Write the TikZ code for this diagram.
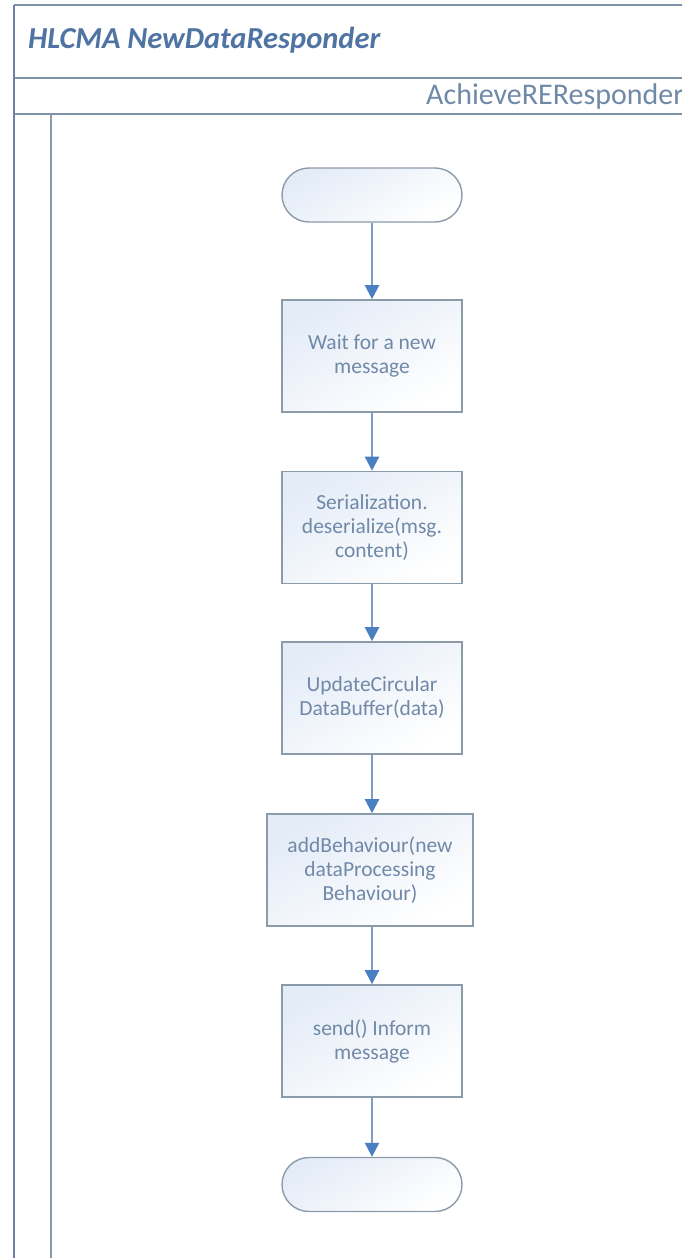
\documentclass[tikz,border=0pt]{standalone}
\usepackage{fontspec}
\setmainfont{Carlito}
\usetikzlibrary{arrows.meta,shapes.misc}
\definecolor{txt}{HTML}{7089A8}
\definecolor{ttl}{HTML}{4F74A3}
\definecolor{bord}{HTML}{8C9BAA}
\definecolor{arr}{HTML}{7C9DC4}
\definecolor{tip}{HTML}{4A80C2}
\definecolor{frameL}{HTML}{6F80AA}
\definecolor{frameT}{HTML}{7F93A8}
\definecolor{fillA}{HTML}{E4ECF7}
\tikzset{
  stepbox/.style={draw=bord, line width=1.6pt, top color=fillA, bottom color=white,
    shading angle=30, minimum width=180pt, minimum height=112pt, inner sep=0pt,
    align=center, text=txt, font=\fontsize{21.5}{24}\selectfont},
  termbox/.style={draw=bord, line width=1.4pt, rounded rectangle, top color=fillA, bottom color=white,
    shading angle=30, minimum width=180pt, minimum height=54pt, inner sep=0pt},
  flow/.style={draw=arr, line width=2.2pt, -{Triangle[width=14pt,length=14pt,color=tip]}},
  framel/.style={line width=2pt}
}
\begin{document}
\begin{tikzpicture}[x=1pt,y=-1pt]
\useasboundingbox (0,0) rectangle (681,1258);
\fill[white] (0,0) rectangle (681,1258);
% frame
\draw[framel, draw=frameT] (14,5) -- (690,5);
\draw[framel, draw=frameT] (14,78) -- (690,78);
\draw[framel, draw=frameT] (14,114) -- (690,114);
\draw[framel, draw=frameL] (14,5) -- (14,1265);
\draw[framel, draw=bord] (51,114) -- (51,1265);
\node[anchor=base west, inner sep=0pt, text=ttl, font=\fontsize{30.5}{31}\selectfont\bfseries\itshape] (title) at (28,48) {HLCMA NewDataResponder};
\node[anchor=base west, inner sep=0pt, text=txt, font=\fontsize{30}{31}\selectfont] (lane) at (426,104) {AchieveREResponder};
% nodes
\node[termbox] (start) at (372,195) {};
\node[stepbox] (b1) at (372,356) {Wait for a new\\message};
\node[stepbox] (b2) at (372,527.5) {Serialization.\\deserialize(msg.\\content)};
\node[stepbox] (b3) at (372,698) {UpdateCircular\\DataBuffer(data)};
\node[stepbox, minimum width=206pt] (b4) at (370,870) {addBehaviour(new\\dataProcessing\\Behaviour)};
\node[stepbox] (b5) at (372,1041) {send() Inform\\message};
\node[termbox] (end) at (372,1184.5) {};
% connectors
\draw[flow] (start) -- (b1);
\draw[flow] (b1) -- (b2);
\draw[flow] (b2) -- (b3);
\draw[flow] (b3.south) -- (b3.south |- b4.north);
\draw[flow] (b4.south -| b5.north) -- (b5);
\draw[flow] (b5) -- (end);
\end{tikzpicture}
\end{document}
